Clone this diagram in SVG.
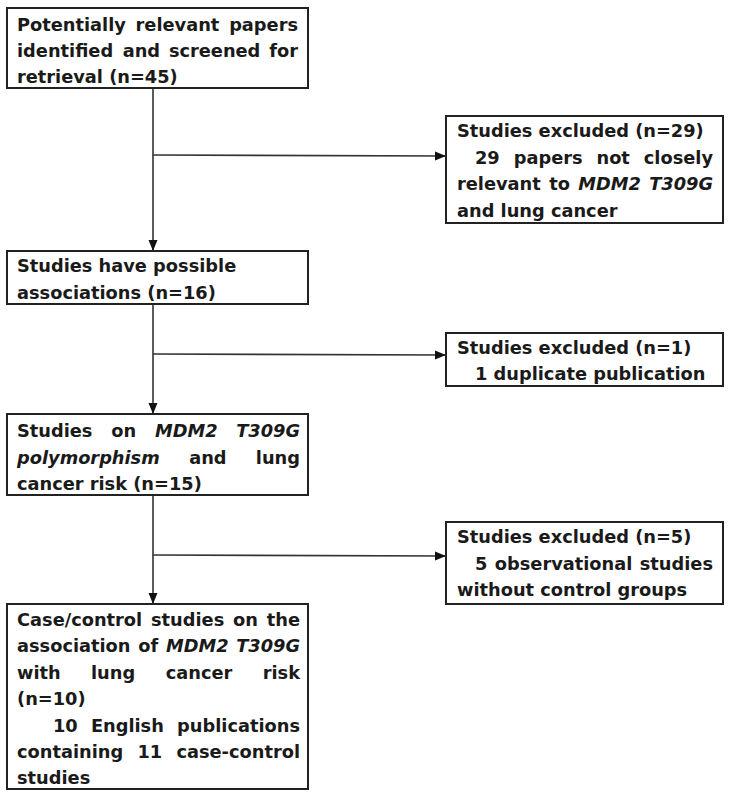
<svg xmlns="http://www.w3.org/2000/svg" width="738" height="800" viewBox="0 0 738 800">
<style>
.box{fill:#fff;stroke:#222;stroke-width:2}
.t{font-family:"DejaVu Sans","Verdana",sans-serif;font-weight:bold;font-size:17.8px;fill:#1a1a1a}
.i{font-style:italic}
.e{text-anchor:end}
.c{stroke:#333;stroke-width:1.6;fill:none}
</style>
<defs>
<marker id="ah" markerUnits="userSpaceOnUse" markerWidth="12" markerHeight="10" refX="11" refY="5" orient="auto">
<path d="M0,0.5 L11,5 L0,9.5 Z" fill="#111"/>
</marker>
</defs>
<rect width="738" height="800" fill="#fff"/>
<g id="connectors">
<line class="c" x1="153" y1="88" x2="153" y2="251" marker-end="url(#ah)"/>
<line class="c" x1="153" y1="155" x2="446" y2="156" marker-end="url(#ah)"/>
<line class="c" x1="153" y1="304" x2="153" y2="414" marker-end="url(#ah)"/>
<line class="c" x1="153" y1="354" x2="446" y2="355" marker-end="url(#ah)"/>
<line class="c" x1="153" y1="495" x2="153" y2="604" marker-end="url(#ah)"/>
<line class="c" x1="153" y1="555" x2="446" y2="556" marker-end="url(#ah)"/>
</g>
<g id="n1">
<rect class="box" x="7" y="8" width="301" height="80"/>
<text class="t" y="31"><tspan x="17">Potentially</tspan><tspan x="135.6">relevant</tspan></text>
<text class="t e" x="298" y="31">papers</text>
<text class="t" y="57"><tspan x="17">identified</tspan><tspan x="122.7">and</tspan><tspan x="168.9">screened</tspan></text>
<text class="t e" x="298" y="57">for</text>
<text class="t" x="17" y="83">retrieval (n=45)</text>
</g>
<g id="ex29">
<rect class="box" x="446" y="116" width="277" height="107"/>
<text class="t" x="457" y="137">Studies excluded (n=29)</text>
<text class="t" y="164"><tspan x="475">29</tspan><tspan x="513.7">papers</tspan><tspan x="596.5">not</tspan></text>
<text class="t e" x="713" y="164">closely</text>
<text class="t" y="190"><tspan x="457">relevant</tspan><tspan x="549.2">to</tspan><tspan x="578.3" class="i">MDM2</tspan></text>
<text class="t e i" x="713" y="190">T309G</text>
<text class="t" x="457" y="217">and lung cancer</text>
</g>
<g id="n2">
<rect class="box" x="7" y="251" width="301" height="53"/>
<text class="t" x="17" y="272">Studies have possible</text>
<text class="t" x="17" y="299">associations (n=16)</text>
</g>
<g id="ex1">
<rect class="box" x="446" y="333" width="277" height="53"/>
<text class="t" x="457" y="354">Studies excluded (n=1)</text>
<text class="t" x="475" y="380">1 duplicate publication</text>
</g>
<g id="n3">
<rect class="box" x="7" y="414" width="301" height="81"/>
<text class="t" y="437"><tspan x="17">Studies</tspan><tspan x="111.3">on</tspan><tspan x="155" class="i">MDM2</tspan></text>
<text class="t e i" x="300" y="437">T309G</text>
<text class="t" y="464"><tspan x="17" class="i">polymorphism</tspan><tspan x="189.2">and</tspan></text>
<text class="t e" x="300" y="464">lung</text>
<text class="t" x="17" y="490">cancer risk (n=15)</text>
</g>
<g id="ex5">
<rect class="box" x="446" y="522" width="277" height="82"/>
<text class="t" x="457" y="543">Studies excluded (n=5)</text>
<text class="t" y="570"><tspan x="475">5</tspan><tspan x="494.8">observational</tspan></text>
<text class="t e" x="713" y="570">studies</text>
<text class="t" x="457" y="596">without control groups</text>
</g>
<g id="n4">
<rect class="box" x="7" y="604" width="301" height="185"/>
<text class="t" y="626"><tspan x="17">Case/control</tspan><tspan x="151">studies</tspan><tspan x="233">on</tspan></text>
<text class="t e" x="300" y="626">the</text>
<text class="t" y="652"><tspan x="17">association</tspan><tspan x="138.3">of</tspan><tspan x="166" class="i">MDM2</tspan></text>
<text class="t e i" x="300" y="652">T309G</text>
<text class="t" y="679"><tspan x="17">with</tspan><tspan x="91">lung</tspan><tspan x="165.7">cancer</tspan></text>
<text class="t e" x="300" y="679">risk</text>
<text class="t" x="17" y="705">(n=10)</text>
<text class="t" y="732"><tspan x="53">10</tspan><tspan x="90.9">English</tspan></text>
<text class="t e" x="300" y="732">publications</text>
<text class="t" y="758"><tspan x="17">containing</tspan><tspan x="137.4">11</tspan></text>
<text class="t e" x="300" y="758">case-control</text>
<text class="t" x="17" y="784">studies</text>
</g>
</svg>
